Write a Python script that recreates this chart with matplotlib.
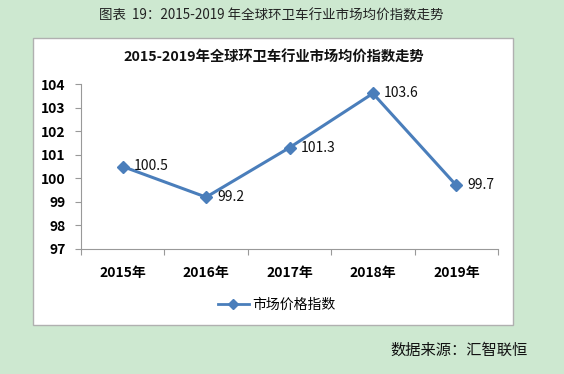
import matplotlib.pyplot as plt
from matplotlib.patches import Rectangle
from matplotlib.lines import Line2D

plt.rcParams['font.family'] = ['Noto Sans CJK SC', 'DejaVu Sans']

# 数据
years = ['2015年', '2016年', '2017年', '2018年', '2019年']
index_vals = [100.5, 99.2, 101.3, 103.6, 99.7]
y_ticks = [97, 98, 99, 100, 101, 102, 103, 104]

W, H = 564, 374
bg = '#cde8d0'
line_c = '#4a7ebb'

fig = plt.figure(figsize=(W / 100, H / 100), dpi=100)
fig.patch.set_facecolor(bg)

# 图表外框
fig.patches.append(Rectangle((33 / W, 1 - 325 / H), 480 / W, 287 / H,
                             transform=fig.transFigure, facecolor='white',
                             edgecolor='#b0b0b0', linewidth=1, zorder=-5))

fig.text(271 / W, 1 - 16 / H, '图表  19：2015-2019 年全球环卫车行业市场均价指数走势',
         ha='center', va='center', fontsize=9.7, color='#222222')
fig.text(274 / W, 1 - 58 / H, '2015-2019年全球环卫车行业市场均价指数走势',
         ha='center', va='center', fontsize=10.3, fontweight='bold', color='#111111')
fig.text(390 / W, 1 - 350 / H, '数据来源：汇智联恒',
         ha='left', va='center', fontsize=11, color='#111111')

ax = fig.add_axes([81 / W, 125 / H, 417 / W, 165 / H])
ax.set_zorder(2)
ax.set_facecolor('white')
x = list(range(len(years)))
ax.plot(x, index_vals, color=line_c, linewidth=2.2, marker='D', markersize=6,
        markerfacecolor=line_c, markeredgecolor=line_c, clip_on=False)
for i, v in enumerate(index_vals):
    ax.annotate(f'{v}', (i, v), xytext=(8, 0), textcoords='offset points',
                ha='left', va='center', fontsize=10, color='#111111')

ax.set_xlim(-0.5, len(years) - 0.5)
ax.set_ylim(97, 104)
ax.set_yticks(y_ticks)
ax.set_yticklabels([str(t) for t in y_ticks], fontsize=10, fontweight='bold')
ax.set_xticks([i + 0.5 for i in range(-1, len(years))], minor=False)
ax.set_xticklabels([])
ax.set_xticks(x, minor=True)
ax.set_xticklabels(years, minor=True, fontsize=10, fontweight='bold')
ax.tick_params(axis='x', which='minor', length=0, pad=12)
ax.tick_params(axis='x', which='major', length=4, color='#999999')
ax.tick_params(axis='y', length=4, color='#999999', pad=7)

for s in ['top', 'right']:
    ax.spines[s].set_visible(False)
for s in ['left', 'bottom']:
    ax.spines[s].set_color('#999999')

handle = Line2D([], [], color=line_c, linewidth=2, marker='D', markersize=5)
leg = fig.legend([handle], ['市场价格指数'], loc='center', bbox_to_anchor=(277 / W, 1 - 305 / H),
                 frameon=False, fontsize=10, handlelength=2.2, handletextpad=0.3)
leg.set_zorder(3)

fig.savefig('out.png', dpi=100, facecolor=bg)
